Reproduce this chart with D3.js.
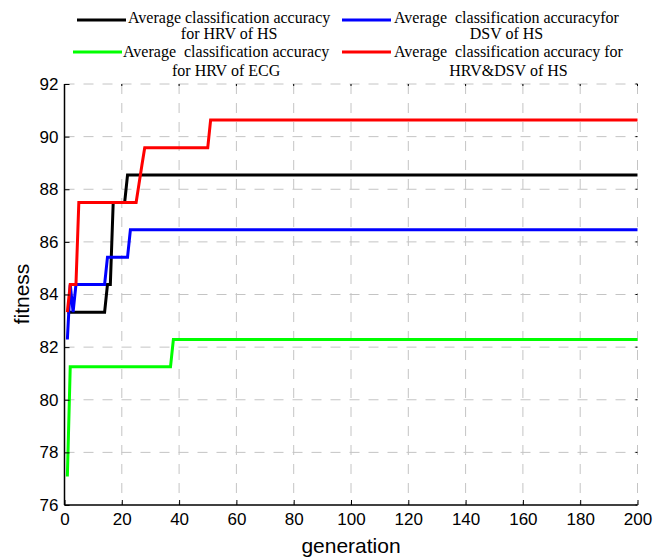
<!DOCTYPE html>
<html><head><meta charset="utf-8">
<script src="https://cdn.jsdelivr.net/npm/d3@7"></script>
<style>body{margin:0;background:#fff}</style>
</head><body><svg id="c" width="654" height="558"></svg>
<script>
// Step points: [generation, value]; each value holds until the next listed generation
const blackSteps = [[1,83.33],[14,83.33],[15,84.38],[16,84.38],[17,87.5],[21,87.5],[22,88.54],[200,88.54]];
const blueSteps  = [[1,82.29],[2,84.38],[3,83.33],[4,84.38],[14,84.38],[15,85.42],[22,85.42],[23,86.46],[200,86.46]];
const greenSteps = [[1,77.08],[2,81.25],[37,81.25],[38,82.29],[200,82.29]];
const redSteps   = [[1,83.33],[2,84.38],[4,84.38],[5,87.5],[25,87.5],[26,88.2],[27,88.9],[28,89.58],[50,89.58],[51,90.63],[200,90.63]];
const xTicks = [0,20,40,60,80,100,120,140,160,180,200];
const yTicks = [76,78,80,82,84,86,88,90,92];
const legendLabels = [
  ["Average classification accuracy","for HRV of HS"],
  ["Average  classification accuracyfor","DSV of HS"],
  ["Average  classification accuracy","for HRV of ECG"],
  ["Average  classification accuracy for","HRV&DSV of HS"]
];
const colors = ["#000000","#0000ff","#00ff00","#ff0000"];
const seriesList = [blackSteps, blueSteps, greenSteps, redSteps];

const svg = d3.select("#c");
const L=64.5, R=637.5, T=84, B=505;
const x = d3.scaleLinear().domain([0,200]).range([L,R]);
const y = d3.scaleLinear().domain([76,92]).range([B,T]);

// grid
const grid = svg.append("g");
xTicks.slice(1).forEach(t=>grid.append("line").attr("x1",x(t)).attr("x2",x(t)).attr("y1",T).attr("y2",B)
  .attr("stroke","#c4c4c4").attr("stroke-dasharray","10,9"));
yTicks.slice(1).forEach(t=>grid.append("line").attr("x1",L).attr("x2",R).attr("y1",y(t)).attr("y2",y(t))
  .attr("stroke","#c4c4c4").attr("stroke-dasharray","10,9"));

// series (expand step points to one point per generation)
function expand(steps){
  const pts=[];
  for(let i=0;i<steps.length-1;i++){
    const [g0,v0]=steps[i],[g1]=steps[i+1];
    for(let g=g0; g<g1; g++) pts.push([g,v0]);
  }
  pts.push(steps[steps.length-1]);
  return pts;
}
const line = d3.line().x(d=>x(d[0])).y(d=>y(d[1]));
seriesList.forEach((s,i)=>{
  svg.append("path").attr("d",line(expand(s))).attr("fill","none")
    .attr("stroke",colors[i]).attr("stroke-width",3).attr("stroke-linejoin","miter");
});

// axes
const xAxis = d3.axisBottom(x).tickValues(xTicks).tickSize(-5).tickPadding(8);
const gx = svg.append("g").attr("transform",`translate(0,${B})`).call(xAxis);
const yAxis = d3.axisLeft(y).tickValues(yTicks).tickSize(-5).tickPadding(6);
const gy = svg.append("g").attr("transform",`translate(${L},0)`).call(yAxis);
[gx,gy].forEach(g=>{
  g.select(".domain").attr("stroke","#000").attr("stroke-width",1.5);
  g.selectAll(".tick line").attr("stroke","#000").attr("stroke-width",1);
  g.selectAll(".tick text").attr("font-family","Liberation Sans, Arial, sans-serif").attr("font-size",17).attr("fill","#000");
});
gx.select(".domain").attr("d",`M${L},0H${R}`);
gy.select(".domain").attr("d",`M0,${B}V${T}`);
// small top/right ticks
xTicks.forEach(t=>svg.append("line").attr("x1",x(t)).attr("x2",x(t)).attr("y1",T).attr("y2",T+2).attr("stroke","#000"));
yTicks.forEach(t=>svg.append("line").attr("x1",R-2).attr("x2",R).attr("y1",y(t)).attr("y2",y(t)).attr("stroke","#000"));

svg.append("text").attr("x",351).attr("y",553).attr("text-anchor","middle")
  .attr("font-family","Liberation Sans, Arial, sans-serif").attr("font-size",21).text("generation");
svg.append("text").attr("transform","translate(29,294) rotate(-90)").attr("text-anchor","middle")
  .attr("font-family","Liberation Sans, Arial, sans-serif").attr("font-size",21).text("fitness");

// legend: [lineX, lineY, textX, baseline1, baseline2]
const legPos = [[77,20,128,23,39],[342,20,394,23,39],[73,52,123,57,76],[342,52,394,57,76]];
legendLabels.forEach((lab,i)=>{
  const [lx,ly,tx,b1,b2]=legPos[i];
  const g=svg.append("g");
  g.append("line").attr("x1",lx).attr("x2",lx+49).attr("y1",ly).attr("y2",ly).attr("stroke",colors[i]).attr("stroke-width",3);
  const t1=g.append("text").attr("x",tx).attr("y",b1).attr("font-family","Liberation Serif, Times New Roman, serif")
    .attr("font-size",16).attr("xml:space","preserve").style("white-space","pre").text(lab[0]);
  const w=t1.node().getComputedTextLength();
  g.append("text").attr("x",tx+w/2).attr("y",b2).attr("text-anchor","middle")
    .attr("font-family","Liberation Serif, Times New Roman, serif").attr("font-size",16).text(lab[1]);
});
</script></body></html>
